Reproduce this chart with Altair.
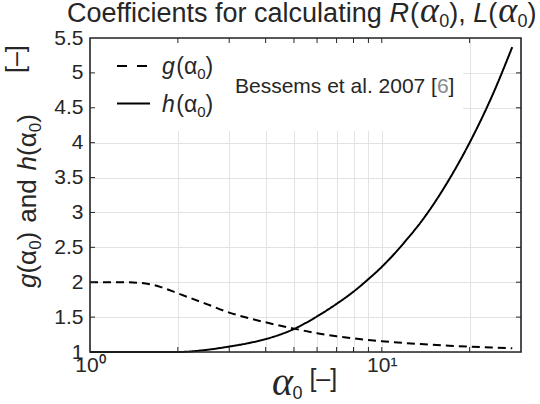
import altair as alt
import pandas as pd

# ---- data ----
alpha = [1, 1.25, 1.5, 1.75, 2, 2.5, 3, 3.5, 4, 5, 6, 7, 8, 9, 10, 12, 14, 17, 20, 24, 28]
g_vals = [2.0, 2.0, 1.99, 1.93, 1.84, 1.69, 1.565, 1.485, 1.425, 1.335, 1.27, 1.225, 1.195,
          1.172, 1.155, 1.128, 1.11, 1.09, 1.076, 1.063, 1.053]
h_vals = [1.0, 1.0, 1.0, 1.0, 1.0, 1.03, 1.078, 1.128, 1.185, 1.33, 1.51, 1.69, 1.865,
          2.045, 2.22, 2.58, 2.93, 3.47, 4.0, 4.69, 5.37]
x_ticks = [1, 2, 3, 4, 5, 6, 7, 8, 9, 10, 20, 30]
x_minor = [2, 3, 4, 5, 6, 7, 8, 9, 10, 20]
y_ticks = [1, 1.5, 2, 2.5, 3, 3.5, 4, 4.5, 5, 5.5]
y_inner = [1.5, 2, 2.5, 3, 3.5, 4, 4.5, 5]

title_parts = ["Coefficients for calculating ", "R", "(", "α", "0", ")", ", ", "L", "(", "α", "0", ")"]
ylabel_parts = ["g", "(", "α", "0", ")", "and", "h", "(", "α", "0", ")"]
ylabel_unit = "[–]"
xlabel_parts = ["α", "0", "[–]"]
legend_g = ["g", "(", "α", "0", ")"]
legend_h = ["h", "(", "α", "0", ")"]
note_parts = ["Bessems et al. 2007 [", "6", "]"]

W, H = 431, 314
XDOM = [1, 30]
YDOM = [1, 5.5]
INK = "#262626"
SANS = "Liberation Sans"
SERIF = "Liberation Serif"

df = pd.DataFrame({"alpha": alpha * 2,
                   "val": g_vals + h_vals,
                   "series": ["g"] * len(alpha) + ["h"] * len(alpha)})

xs = alt.Scale(type="log", domain=XDOM, nice=False)
ys = alt.Scale(domain=YDOM, nice=False, zero=False)

xaxis = alt.Axis(values=x_ticks, grid=True, ticks=False, domain=False, title=None,
                 labelExpr="datum.value == 1 ? '10⁰' : (datum.value == 10 ? '10¹' : '')",
                 labelFont=SANS, labelFontSize=21, labelColor=INK, labelPadding=2,
                 gridColor="#e3e3e3", gridWidth=1, zindex=0, labelFlush=False,
                 labelOverlap=False)
yaxis = alt.Axis(values=y_ticks, grid=True, ticks=False, domain=False, title=None,
                 format="~g", labelFont=SANS, labelFontSize=21, labelColor=INK,
                 labelPadding=7, gridColor="#e3e3e3", gridWidth=1, zindex=0,
                 labelFlush=False, labelOverlap=False)

CW = {' ': 278, '(': 333, ')': 333, ',': 278, '.': 278, '[': 278, ']': 278, '–': 556,
      'α': 578, 'a': 556, 'b': 556, 'c': 500, 'd': 556, 'e': 556, 'f': 278, 'g': 556,
      'h': 556, 'i': 222, 'l': 222, 'm': 833, 'n': 556, 'o': 556, 'r': 333, 's': 500,
      't': 278, 'u': 556, 'C': 722, 'R': 722, 'L': 556, 'B': 667}


def tw(s, size, serif=False):
    if serif:
        return 0.56 * size * len(s)
    return sum(CW.get(c, 556) for c in s) / 1000.0 * size


def txt(s, x, y, size, font=SANS, style="normal", color=INK, angle=0):
    return alt.Chart(alt.Data(values=[{"t": s}])).mark_text(
        align="left", baseline="alphabetic", font=font, fontSize=size,
        fontStyle=style, color=color, angle=angle
    ).encode(x=alt.value(x), y=alt.value(y), text="t:N")


def run(parts, specs, x0, y0, vertical=False):
    """lay text pieces one after another; specs: (size, font, style, shift, gap, color)"""
    out = []
    pos = 0.0
    for s, (size, font, style, shift, gap, color) in zip(parts, specs):
        pos += gap
        if vertical:
            out.append(txt(s, x0 + shift, y0 - pos, size, font, style, color, angle=270))
        else:
            out.append(txt(s, x0 + pos, y0 + shift, size, font, style, color))
        pos += tw(s, size, font == SERIF)
    return out


# ---- base lines with axes / grid ----
base = alt.Chart(df).mark_line(color="black", strokeWidth=2, interpolate="monotone").encode(
    x=alt.X("alpha:Q", scale=xs, axis=xaxis),
    y=alt.Y("val:Q", scale=ys, axis=yaxis),
    strokeDash=alt.StrokeDash("series:N", scale=alt.Scale(domain=["g", "h"], range=[[8, 5], [1, 0]]),
                              legend=None),
    detail="series:N",
)

one = alt.Data(values=[{"a": 1}])
cover = alt.Chart(one).mark_rect(color="white").encode(
    x=alt.value(1), x2=alt.value(373), y=alt.value(1), y2=alt.value(93))

tx = pd.DataFrame({"t": x_minor})
ty = pd.DataFrame({"t": y_inner})
tick_b = alt.Chart(tx).mark_rule(color=INK, strokeWidth=1).encode(
    x=alt.X("t:Q", scale=xs, axis=xaxis), y=alt.value(H), y2=alt.value(H - 5))
tick_t = alt.Chart(tx).mark_rule(color=INK, strokeWidth=1).encode(
    x=alt.X("t:Q", scale=xs, axis=xaxis), y=alt.value(0), y2=alt.value(5))
tick_l = alt.Chart(ty).mark_rule(color=INK, strokeWidth=1).encode(
    y=alt.Y("t:Q", scale=ys, axis=yaxis), x=alt.value(0), x2=alt.value(5))
tick_r = alt.Chart(ty).mark_rule(color=INK, strokeWidth=1).encode(
    y=alt.Y("t:Q", scale=ys, axis=yaxis), x=alt.value(W), x2=alt.value(W - 5))

frame = alt.Chart(one).mark_rect(filled=False, stroke=INK, strokeWidth=1.6).encode(
    x=alt.value(0), x2=alt.value(W), y=alt.value(0), y2=alt.value(H))

# legend samples
leg_g = alt.Chart(one).mark_rule(color="black", strokeWidth=1.8, strokeDash=[10, 10]).encode(
    x=alt.value(27), x2=alt.value(57), y=alt.value(28))
leg_h = alt.Chart(one).mark_rule(color="black", strokeWidth=1.8).encode(
    x=alt.value(27), x2=alt.value(60), y=alt.value(65.5))

LS = 23
leg_specs = [(LS, SANS, "italic", 0, 0, INK), (LS, SANS, "normal", 0, 1.5, INK),
             (LS, SANS, "normal", 0, 0, INK), (15, SANS, "normal", 5, 0, INK),
             (LS, SANS, "normal", 0, 0, INK)]
texts = []
texts += run(legend_g, leg_specs, 72, 36)
texts += run(legend_h, leg_specs, 72, 74)
texts += run(note_parts, [(21, SANS, "normal", 0, 0, INK), (21, SANS, "normal", 0, 0, "#888888"),
                          (21, SANS, "normal", 0, 0, INK)], 145, 55)

# title (plot coords = abs - (90, 38))
TS = 27
title_specs = [(TS, SANS, "normal", 0, 0, INK), (TS, SANS, "italic", 0, 0, INK),
               (TS, SANS, "normal", 0, 1, INK), (36, SERIF, "italic", 0, 1, INK),
               (18, SANS, "normal", 5, -1, INK), (TS, SANS, "normal", 0, 0, INK),
               (TS, SANS, "normal", 0, 0, INK), (TS, SANS, "italic", 0, 0, INK),
               (TS, SANS, "normal", 0, 0, INK), (36, SERIF, "italic", 0, 1, INK),
               (18, SANS, "normal", 5, -1, INK), (TS, SANS, "normal", 0, 0, INK)]
texts += run(title_parts, title_specs, -23, -16)

# y label (rotated)
YS = 26
yl_specs = [(YS, SANS, "italic", 0, 0, INK), (YS, SANS, "normal", 0, 0, INK),
            (YS, SANS, "normal", 0, 0, INK), (17, SANS, "normal", 5, 0, INK),
            (YS, SANS, "normal", 0, 0, INK), (YS, SANS, "normal", 0, 9, INK),
            (YS, SANS, "italic", 0, 9, INK), (YS, SANS, "normal", 0, 0, INK),
            (YS, SANS, "normal", 0, 0, INK), (17, SANS, "normal", 5, 0, INK),
            (YS, SANS, "normal", 0, 0, INK)]
texts += run(ylabel_parts, yl_specs, -54, 250, vertical=True)
texts.append(txt(ylabel_unit, -66, 35, 25, angle=270))

# x label
texts += run(xlabel_parts, [(40, SERIF, "italic", 0, 0, INK), (18, SANS, "normal", 4, -2, INK),
                            (25, SANS, "normal", -8, 7, INK)], 182, 357)

chart = alt.layer(cover, base, tick_b, tick_t, tick_l, tick_r, frame, leg_g, leg_h, *texts).properties(
    width=W, height=H,
    autosize=alt.AutoSizeParams(type="none"),
    padding={"left": 90, "top": 38, "right": 19, "bottom": 52},
).configure_view(stroke=None).configure(background="white")

chart.save("out.html", embed_options={"renderer": "svg", "actions": False})
